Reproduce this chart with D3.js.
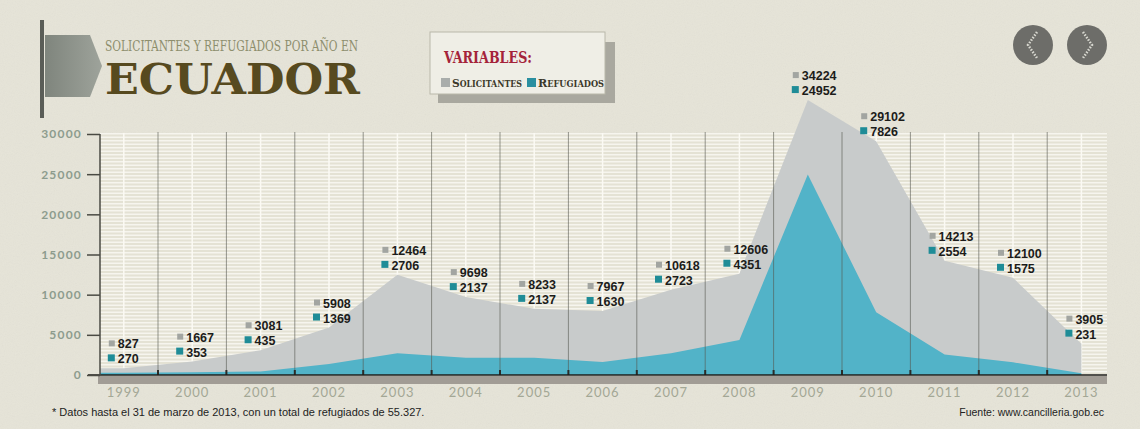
<!DOCTYPE html>
<html>
<head>
<meta charset="utf-8">
<script src="https://cdn.jsdelivr.net/npm/d3@7"></script>
<style>
  html, body { margin: 0; padding: 0; background: #e6e4d8; }
  svg { display: block; }
</style>
</head>
<body>
<div id="chart"></div>
<script>
(function () {

var width = 1140;
var height = 429;

// data
var years = ["1999", "2000", "2001", "2002", "2003", "2004", "2005", "2006",
             "2007", "2008", "2009", "2010", "2011", "2012", "2013"];
var solicitantes = [827, 1667, 3081, 5908, 12464, 9698, 8233, 7967,
                    10618, 12606, 34224, 29102, 14213, 12100, 3905];
var refugiados = [270, 353, 435, 1369, 2706, 2137, 2137, 1630,
                  2723, 4351, 24952, 7826, 2554, 1575, 231];
var yTicks = [0, 5000, 10000, 15000, 20000, 25000, 30000];

var colGrey = "#c8cbcb";
var colTeal = "#52b3c8";

var svg = d3.select("#chart").append("svg")
    .attr("width", width)
    .attr("height", height);

var defs = svg.append("defs");

// paper grain
var f = defs.append("filter").attr("id", "grain")
    .attr("x", 0).attr("y", 0).attr("width", "100%").attr("height", "100%");
f.append("feTurbulence").attr("type", "fractalNoise")
    .attr("baseFrequency", 0.9).attr("numOctaves", 2).attr("seed", 3);
f.append("feColorMatrix").attr("type", "saturate").attr("values", 0);

// horizontal stripes of the plot area
var pat = defs.append("pattern").attr("id", "stripes")
    .attr("patternUnits", "userSpaceOnUse")
    .attr("width", 8).attr("height", 7);
pat.append("rect").attr("width", 8).attr("height", 7).attr("fill", "#e4e2d4");
pat.append("rect").attr("y", 0).attr("width", 8).attr("height", 1.5).attr("fill", "#f6f5ee");
pat.append("rect").attr("y", 3.5).attr("width", 8).attr("height", 1.5).attr("fill", "#f6f5ee");

var grad = defs.append("linearGradient").attr("id", "flag")
    .attr("x1", 0).attr("x2", 1).attr("y1", 0).attr("y2", 0);
grad.append("stop").attr("offset", 0).attr("stop-color", "#7f857d");
grad.append("stop").attr("offset", 1).attr("stop-color", "#9ea39b");

svg.append("rect").attr("width", width).attr("height", height).attr("fill", "#e6e4d8");
svg.append("rect").attr("width", width).attr("height", height)
    .attr("filter", "url(#grain)").attr("opacity", 0.07);

// scales
var plotLeft = 100, plotRight = 1107;
var x = d3.scaleBand().domain(years).range([89.6, 1115.6]).padding(0);
var bw = x.bandwidth();
var y = d3.scaleLinear().domain([0, 30000]).range([375, 134]);
var cx = function (yr) { return x(yr) + bw / 2; };

var g = svg.append("g");

// striped plot background
g.append("rect")
    .attr("x", plotLeft).attr("y", y(30000) - 1)
    .attr("width", plotRight - plotLeft).attr("height", y(0) - y(30000) + 1)
    .attr("fill", "url(#stripes)");

// light column centre lines
g.selectAll(".midline").data(years).enter().append("line")
    .attr("x1", cx).attr("x2", cx)
    .attr("y1", y(30000) - 1).attr("y2", y(0))
    .attr("stroke", "#fbfaf4").attr("stroke-width", 1.5);

defs.append("clipPath").attr("id", "plotclip").append("rect")
    .attr("x", plotLeft).attr("y", 0)
    .attr("width", plotRight - plotLeft).attr("height", y(0));

function series(vals) {
  var pts = years.map(function (yr, i) { return [cx(yr), vals[i]]; });
  // carry the first value to the axis
  pts.unshift([plotLeft, vals[0]]);
  return pts;
}

var area = d3.area()
    .x(function (d) { return d[0]; })
    .y0(y(0))
    .y1(function (d) { return y(d[1]); });

var areas = g.append("g").attr("clip-path", "url(#plotclip)");
areas.append("path").datum(series(solicitantes))
    .attr("fill", colGrey).attr("d", area);
areas.append("path").datum(series(refugiados))
    .attr("fill", colTeal).attr("d", area);

// vertical grid lines between years
g.selectAll(".grid").data(years.slice(1)).enter().append("line")
    .attr("x1", function (d) { return x(d); })
    .attr("x2", function (d) { return x(d); })
    .attr("y1", y(30000) - 2).attr("y2", y(0))
    .attr("stroke", "#55564f").attr("stroke-opacity", 0.6).attr("stroke-width", 1);

// small ticks on the base line
g.selectAll(".xtick").data(years.slice(1)).enter().append("line")
    .attr("x1", function (d) { return x(d); })
    .attr("x2", function (d) { return x(d); })
    .attr("y1", y(0) - 5).attr("y2", y(0))
    .attr("stroke", "#2b2b27").attr("stroke-width", 2);

// brown-grey band under the axis
g.append("rect")
    .attr("x", plotLeft - 2).attr("y", y(0) + 1)
    .attr("width", plotRight - plotLeft + 2).attr("height", 8)
    .attr("fill", "#a19c95");

g.append("line")
    .attr("x1", 88).attr("x2", plotRight)
    .attr("y1", y(0)).attr("y2", y(0))
    .attr("stroke", "#1e1e1b").attr("stroke-width", 1.5);

// y axis
var yAxis = g.append("g")
    .attr("transform", "translate(" + plotLeft + ",0)")
    .call(d3.axisLeft(y).tickValues(yTicks).tickSize(13).tickPadding(5)
      .tickFormat(d3.format("d")));
yAxis.select(".domain").remove();
yAxis.selectAll(".tick line").attr("stroke", "#4a4a43").attr("stroke-width", 1.5);
yAxis.selectAll("text")
    .attr("fill", "#8d9c8e")
    .style("font-family", "Lato, 'DejaVu Sans', sans-serif")
    .style("font-weight", "700")
    .style("font-size", "12px")
    .style("letter-spacing", "1.2px");
g.append("line")
    .attr("x1", plotLeft).attr("x2", plotLeft)
    .attr("y1", y(30000)).attr("y2", y(0))
    .attr("stroke", "#4a4a43").attr("stroke-width", 1.5);

// year labels
g.selectAll(".year").data(years).enter().append("text")
    .attr("x", cx).attr("y", 397)
    .attr("text-anchor", "middle")
    .attr("fill", "#a3a795")
    .style("font-family", "Lato, 'DejaVu Sans', sans-serif")
    .style("font-size", "13px")
    .style("letter-spacing", "1px")
    .text(function (d) { return d; });

// value labels
var lab = g.selectAll(".lab").data(years).enter().append("g")
    .attr("transform", function (d, i) {
      return "translate(" + cx(d) + "," + (y(solicitantes[i]) - 20) + ")";
    });
lab.append("rect").attr("x", -15).attr("y", -8).attr("width", 6).attr("height", 6)
    .attr("fill", "#a2a5a1");
lab.append("rect").attr("x", -16).attr("y", 6).attr("width", 7).attr("height", 7)
    .attr("fill", "#1f8c97");
lab.append("text").attr("x", -6).attr("y", 0)
    .text(function (d, i) { return solicitantes[i]; });
lab.append("text").attr("x", -6).attr("y", 15)
    .text(function (d, i) { return refugiados[i]; });
lab.selectAll("text")
    .attr("fill", "#1c1c1a")
    .style("font-family", "'Liberation Sans', Arial, sans-serif")
    .style("font-weight", "700")
    .style("font-size", "12.5px");

// title flag
var head = svg.append("g");
head.append("path")
    .attr("d", "M45,35 L90,35 L102,66 L90,97 L45,97 Z")
    .attr("fill", "url(#flag)");
head.append("rect").attr("x", 40).attr("y", 20).attr("width", 4).attr("height", 98)
    .attr("fill", "#5a5d57");
head.append("text")
    .attr("x", 105).attr("y", 51)
    .attr("textLength", 253).attr("lengthAdjust", "spacingAndGlyphs")
    .attr("fill", "#8d8e6d")
    .style("font-family", "'DejaVu Serif Condensed', 'DejaVu Serif', serif")
    .style("font-size", "15px")
    .text("SOLICITANTES Y REFUGIADOS POR AÑO EN");
head.append("text")
    .attr("x", 105).attr("y", 94)
    .attr("textLength", 255).attr("lengthAdjust", "spacingAndGlyphs")
    .attr("fill", "#574a1f")
    .style("font-family", "'DejaVu Serif', serif")
    .style("font-weight", "700")
    .style("font-size", "43px")
    .text("ECUADOR");

// legend box
var leg = svg.append("g");
leg.append("rect").attr("x", 438).attr("y", 42).attr("width", 177).attr("height", 61)
    .attr("fill", "#a9a89f");
leg.append("rect").attr("x", 430).attr("y", 32).attr("width", 175).attr("height", 62)
    .attr("fill", "#efeee6").attr("stroke", "#b9b8aa").attr("stroke-width", 1);
leg.append("text")
    .attr("x", 444).attr("y", 63)
    .attr("textLength", 88).attr("lengthAdjust", "spacingAndGlyphs")
    .attr("fill", "#a4233a")
    .style("font-family", "'DejaVu Serif Condensed', 'DejaVu Serif', serif")
    .style("font-weight", "700")
    .style("font-size", "16px")
    .text("VARIABLES:");

var legendItems = [
  { first: "S", rest: "OLICITANTES", color: "#a9adab", x: 441, len: 70 },
  { first: "R", rest: "EFUGIADOS", color: "#2a8fa0", x: 527, len: 66 }
];
legendItems.forEach(function (it) {
  leg.append("rect").attr("x", it.x).attr("y", 78).attr("width", 9).attr("height", 9)
      .attr("fill", it.color);
  var t = leg.append("text")
      .attr("x", it.x + 11).attr("y", 87)
      .attr("textLength", it.len).attr("lengthAdjust", "spacingAndGlyphs")
      .attr("fill", "#3b3829")
      .style("font-family", "'DejaVu Serif Condensed', 'DejaVu Serif', serif")
      .style("font-weight", "700");
  t.append("tspan").style("font-size", "11.5px").text(it.first);
  t.append("tspan").style("font-size", "8.5px").text(it.rest);
});

// navigation buttons
var nav = svg.append("g");
[{ cx: 1033, dir: -1 }, { cx: 1087, dir: 1 }].forEach(function (b) {
  nav.append("circle").attr("cx", b.cx).attr("cy", 45).attr("r", 20)
      .attr("fill", "#6d6d69");
  nav.append("path")
      .attr("d", "M" + (b.cx - 4 * b.dir) + ",32 L" + (b.cx + 5 * b.dir) + ",45 L" +
        (b.cx - 4 * b.dir) + ",58")
      .attr("fill", "none").attr("stroke", "#d8d8d0").attr("stroke-width", 2.5)
      .attr("stroke-dasharray", "1.5,1.5");
});

// footnotes
svg.append("text")
    .attr("x", 52).attr("y", 416)
    .attr("fill", "#222")
    .style("font-family", "'Liberation Sans', Arial, sans-serif")
    .style("font-size", "11px")
    .text("* Datos hasta el 31 de marzo de 2013, con un total de refugiados de 55.327.");
svg.append("text")
    .attr("x", 1104).attr("y", 416)
    .attr("text-anchor", "end")
    .attr("fill", "#222")
    .style("font-family", "'Liberation Sans', Arial, sans-serif")
    .style("font-size", "10.5px")
    .text("Fuente: www.cancilleria.gob.ec");

})();
</script>
</body>
</html>
